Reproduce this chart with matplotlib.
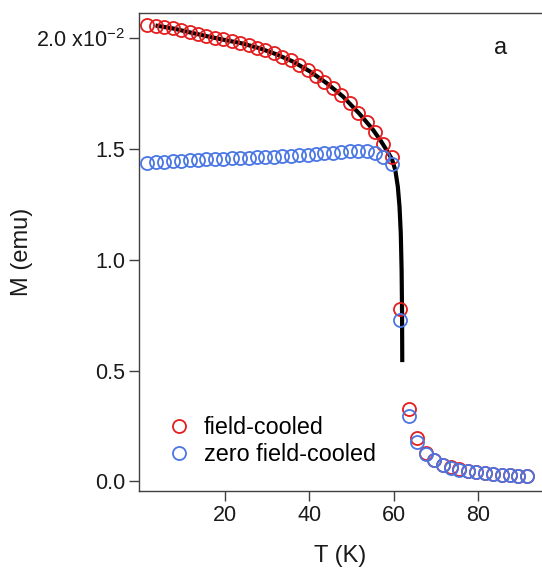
import matplotlib
matplotlib.use("Agg")
import matplotlib.pyplot as plt

plt.rcParams['font.family'] = ['Liberation Sans', 'DejaVu Sans']
plt.rcParams['mathtext.fontset'] = 'custom'
plt.rcParams['mathtext.rm'] = 'Liberation Sans'

# temperatures (K) of the measured points
temp = [1.6, 3.6, 5.6, 7.6, 9.6, 11.6, 13.6, 15.6, 17.6, 19.6,
        21.6, 23.6, 25.6, 27.6, 29.6, 31.6, 33.6, 35.6, 37.6, 39.6,
        41.6, 43.6, 45.6, 47.6, 49.6, 51.6, 53.6, 55.6, 57.6, 59.6,
        61.6, 63.6, 65.6, 67.6, 69.6, 71.6, 73.6, 75.6, 77.6, 79.6,
        81.6, 83.6, 85.6, 87.6, 89.6, 91.6]

# magnetisation in units of 1e-2 emu
m_fc = [2.060, 2.055, 2.050, 2.045, 2.037, 2.027, 2.019, 2.010, 2.003, 1.995,
        1.988, 1.979, 1.970, 1.958, 1.947, 1.932, 1.917, 1.900, 1.880, 1.857,
        1.831, 1.804, 1.776, 1.744, 1.707, 1.665, 1.620, 1.576, 1.522, 1.462,
        0.780, 0.327, 0.197, 0.129, 0.099, 0.076, 0.064, 0.055, 0.048, 0.043,
        0.039, 0.035, 0.031, 0.028, 0.026, 0.024]

m_zfc = [1.436, 1.440, 1.443, 1.445, 1.447, 1.449, 1.451, 1.453, 1.455, 1.457,
         1.458, 1.460, 1.461, 1.463, 1.464, 1.466, 1.468, 1.470, 1.472, 1.474,
         1.477, 1.480, 1.484, 1.488, 1.492, 1.493, 1.490, 1.483, 1.463, 1.431,
         0.727, 0.297, 0.180, 0.125, 0.095, 0.073, 0.062, 0.053, 0.046, 0.042,
         0.038, 0.034, 0.030, 0.027, 0.025, 0.023]

# fitted curve
fit_t = [4.0, 8.0, 12.0, 16.0, 20.0, 24.0, 28.0, 32.0, 36.0, 40.0,
         44.0, 48.0, 52.0, 55.0, 57.0, 58.5, 59.6, 60.4, 61.0, 61.4,
         61.7, 61.9, 62.0, 62.05]
fit_m = [2.056, 2.043, 2.025, 2.008, 1.992, 1.977, 1.956, 1.929, 1.896, 1.852,
         1.799, 1.737, 1.657, 1.590, 1.536, 1.490, 1.455, 1.405, 1.330, 1.240,
         1.120, 0.950, 0.760, 0.548]

yticks = [0.0, 0.5, 1.0, 1.5, 2.0]
yticklabels = ['0.0', '0.5', '1.0', '1.5', r'2.0 x10$^{-2}$']
xticks = [20, 40, 60, 80]

red = '#e41e1e'
blue = '#4a76e4'
axcol = '#404040'
txtcol = '#1a1a1a'

fig = plt.figure(figsize=(5.42, 5.70), dpi=100)
ax = fig.add_axes([139/542, 1-491/570, (542-139)/542, (491-13)/570])

ax.plot(fit_t, fit_m, color='black', lw=3, zorder=1)
ax.plot(temp, m_fc, 'o', mfc='none', mec=red, ms=9.4, mew=1.3,
        label='field-cooled', zorder=2)
ax.plot(temp, m_zfc, 'o', mfc='none', mec=blue, ms=9.4, mew=1.3,
        label='zero field-cooled', zorder=3)

ax.set_xlim(-0.4, 95.2)
ax.set_ylim(-0.043, 2.114)
ax.set_xticks(xticks)
ax.set_yticks(yticks)
ax.set_yticklabels(yticklabels)

for s in ['left', 'top', 'bottom']:
    ax.spines[s].set_color(axcol)
    ax.spines[s].set_linewidth(1.0)
ax.spines['right'].set_visible(False)
ax.tick_params(direction='out', length=7, width=1.0, color=axcol,
               labelsize=15.5, labelcolor=txtcol, pad=3)

ax.set_xlabel('T (K)', fontsize=17, color=txtcol, labelpad=14)
ax.set_ylabel('M (emu)', fontsize=17, color=txtcol)
ax.yaxis.set_label_coords((33 - 139) / 403, 0.5)

fig.text(501/542, 1 - 48/570, 'a', fontsize=17, color=txtcol,
         ha='center', va='center')

ax.legend(loc='center left', bbox_to_anchor=(0.074, 0.1046), frameon=False,
          fontsize=16.8, handlelength=0.9, handletextpad=0.6, labelspacing=0.2,
          borderpad=0, borderaxespad=0)

fig.savefig('out.png', dpi=100)
